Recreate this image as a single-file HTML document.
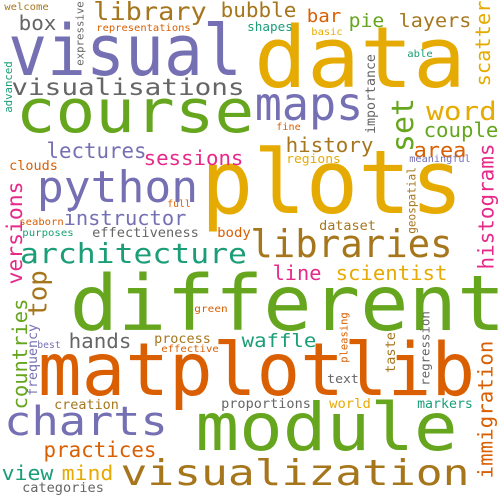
<!DOCTYPE html>
<html><head><meta charset="utf-8"><style>
html,body{margin:0;padding:0;background:#fff;}
svg{display:block;}
text{font-family:"DejaVu Sans Mono","Liberation Mono",monospace;}
</style></head><body>
<svg id="cloud" width="500" height="500" viewBox="0 0 500 500" xmlns="http://www.w3.org/2000/svg">
<rect width="500" height="500" fill="#fff"/>
</svg>
<script>
const hWords = ["data","visual","course","plots","different","matplotlib","module","visualization","charts","python","maps","architecture","libraries","visualisations","library","box","bubble","bar","pie","layers","shapes","basic","able","representations","welcome","word","couple","history","area","regions","meaningful","fine","lectures","sessions","clouds","instructor","full","seaborn","purposes","effectiveness","body","dataset","line","scientist","hands","process","effective","green","best","waffle","text","proportions","creation","world","markers","practices","view","mind","categories"];
const hColors = ["#e6ab02","#7570b3","#66a61e","#e6ab02","#66a61e","#d95f02","#66a61e","#a6761d","#7570b3","#7570b3","#7570b3","#1b9e77","#a6761d","#666666","#a6761d","#666666","#a6761d","#d95f02","#66a61e","#a6761d","#1b9e77","#e6ab02","#1b9e77","#d95f02","#a6761d","#e6ab02","#66a61e","#a6761d","#d95f02","#e6ab02","#7570b3","#d95f02","#7570b3","#e7298a","#d95f02","#7570b3","#d95f02","#d95f02","#1b9e77","#666666","#d95f02","#a6761d","#e7298a","#e6ab02","#666666","#a6761d","#d95f02","#d95f02","#7570b3","#1b9e77","#666666","#666666","#a6761d","#e6ab02","#1b9e77","#d95f02","#1b9e77","#e6ab02","#666666"];
// [left, right, baseline, fontSize]
const hBoxes = [[260,460,87,85],[13,237,75,70],[20,250,132,60],[207,457,213,88],[75,500,330,77],[43,470,395,73],[200,453,450,66],[123,467,485,36],[7,165,435,40],[40,195,202,44],[258,360,120,46],[22,245,263,28],[253,450,257,38],[13,243,95,23],[95,205,20,25],[20,55,30,20],[222,295,17,20],[308,340,22,18],[350,383,27,19],[400,470,27,19],[248,292,31,12],[312,342,35,10],[408,432,57,10],[97,190,31,10],[5,48,10,10],[428,495,120,26],[425,497,137,20],[287,372,152,20],[415,465,157,20],[287,340,163,12],[410,470,162,10],[277,300,130,10],[48,145,158,21],[145,242,165,20],[10,57,170,13],[65,185,225,20],[168,190,207,10],[20,63,225,10],[23,73,236,10],[93,198,237,13],[218,250,237,13],[320,375,230,13],[274,320,280,20],[337,446,280,20],[70,130,348,20],[155,210,343,13],[162,218,352,10],[195,227,312,10],[38,60,348,10],[243,315,347,19],[328,358,383,12],[222,310,408,13],[55,118,409,13],[330,370,408,13],[418,472,408,13],[45,155,457,21],[3,52,480,20],[63,112,480,20],[23,103,492,13]];
const vWords = ["scatter","set","importance","histograms","geospatial","expressive","advanced","versions","top","countries","frequency","pleasing","taste","regression","immigration"];
const vColors = ["#e6ab02","#66a61e","#666666","#e7298a","#a6761d","#666666","#1b9e77","#e7298a","#a6761d","#66a61e","#7570b3","#d95f02","#a6761d","#666666","#d95f02"];
// [left, right, bottomY, topY]
const vBoxes = [[477,490,85,2],[397,413,150,100],[368,378,133,55],[480,498,268,145],[408,418,233,168],[76,86,65,2],[3,12,112,62],[6,22,283,183],[32,52,315,272],[12,27,408,300],[28,40,395,325],[340,350,362,313],[382,395,372,333],[420,432,385,312],[478,497,477,342]];

const svg = document.getElementById('cloud');
const NS = 'http://www.w3.org/2000/svg';
for (let i = 0; i < hWords.length; i++) {
  const [l, r, b, s] = hBoxes[i];
  const t = document.createElementNS(NS, 'text');
  t.setAttribute('x', l - 0.07 * s);
  t.setAttribute('y', b);
  t.setAttribute('font-size', s);
  t.setAttribute('fill', hColors[i]);
  t.setAttribute('textLength', (r - l) + 0.14 * s);
  t.setAttribute('lengthAdjust', 'spacingAndGlyphs');
  t.textContent = hWords[i];
  
  
  svg.appendChild(t);
}
for (let i = 0; i < vWords.length; i++) {
  const [l, r, bot, top] = vBoxes[i];
  const w = vWords[i];
  const len = bot - top;
  const s = len / (w.length * 0.602 - 0.14);
  const bx = /[gpqyj]/.test(w) ? r - 0.22 * s : r;
  const t = document.createElementNS(NS, 'text');
  t.setAttribute('x', bx);
  t.setAttribute('y', bot + 0.07 * s);
  t.setAttribute('font-size', s);
  t.setAttribute('fill', vColors[i]);
  t.setAttribute('textLength', len + 0.14 * s);
  t.setAttribute('lengthAdjust', 'spacingAndGlyphs');
  t.setAttribute('transform', 'rotate(-90 ' + bx + ' ' + (bot + 0.07 * s) + ')');
  t.textContent = w;
  
  
  svg.appendChild(t);
}
</script>
</body></html>
